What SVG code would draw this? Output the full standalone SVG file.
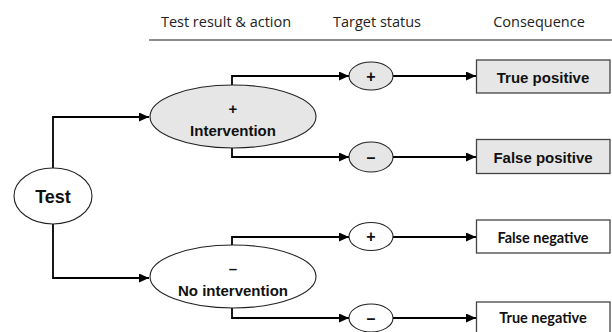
<svg xmlns="http://www.w3.org/2000/svg" width="612" height="332" viewBox="0 0 612 332">
<style>
.hdr{font-family:"Open Sans",Lato,sans-serif;font-size:14.5px;fill:#222;text-anchor:middle}
.b{font-family:"Liberation Sans",Arial,sans-serif;font-weight:bold;fill:#111;text-anchor:middle}
.c{font-family:Lato,"Open Sans",sans-serif;font-weight:bold;font-size:14.5px;fill:#111;text-anchor:middle}
.ell{stroke:#222;stroke-width:1.1}
.g{fill:#e6e6e6}
.w{fill:#fff}
.box{stroke:#444;stroke-width:1.3}
.con{fill:none;stroke:#000;stroke-width:1.8}
</style>
<defs>
<marker id="ah" markerUnits="userSpaceOnUse" markerWidth="10" markerHeight="9" refX="10" refY="4.5" orient="auto">
<path d="M0,0 L10,4.5 L0,9 z" fill="#000"/>
</marker>
</defs>
<rect width="612" height="332" fill="#fff"/>
<g id="header">
<text class="hdr" x="226" y="27">Test result &amp; action</text>
<text class="hdr" x="377" y="27">Target status</text>
<text class="hdr" x="539" y="27">Consequence</text>
<line x1="149" y1="40" x2="612" y2="40" stroke="#666" stroke-width="1.5"/>
</g>
<g id="connectors">
<path class="con" d="M53,168 V117 H149" marker-end="url(#ah)"/>
<path class="con" d="M53,224 V278 H149" marker-end="url(#ah)"/>
<path class="con" d="M232,85 V76 H349" marker-end="url(#ah)"/>
<path class="con" d="M232,148 V157 H349" marker-end="url(#ah)"/>
<path class="con" d="M232,245 V237 H349" marker-end="url(#ah)"/>
<path class="con" d="M232,308 V318 H349" marker-end="url(#ah)"/>
<path class="con" d="M393,76 H476" marker-end="url(#ah)"/>
<path class="con" d="M393,157 H476" marker-end="url(#ah)"/>
<path class="con" d="M393,237 H476" marker-end="url(#ah)"/>
<path class="con" d="M393,318 H476" marker-end="url(#ah)"/>
</g>
<g id="test">
<ellipse class="ell w" cx="53" cy="196" rx="39" ry="28"/>
<text class="b" x="53" y="203" font-size="18">Test</text>
</g>
<g id="intervention">
<ellipse class="ell g" cx="233" cy="116.5" rx="83" ry="31.5"/>
<text class="b" x="233" y="114" font-size="15">+</text>
<text class="b" x="233" y="136" font-size="15">Intervention</text>
</g>
<g id="no-intervention">
<ellipse class="ell w" cx="233" cy="276.5" rx="83" ry="31.5"/>
<text class="b" x="233" y="274" font-size="15">–</text>
<text class="b" x="233" y="296" font-size="15">No intervention</text>
</g>
<g id="pos1">
<ellipse class="ell g" cx="371" cy="76" rx="22" ry="14"/>
<text class="b" x="371" y="81.5" font-size="16">+</text>
</g>
<g id="neg1">
<ellipse class="ell g" cx="371" cy="157" rx="22" ry="15"/>
<text class="b" x="371" y="162.5" font-size="16">–</text>
</g>
<g id="pos2">
<ellipse class="ell w" cx="371" cy="236.5" rx="22" ry="14"/>
<text class="b" x="371" y="242" font-size="16">+</text>
</g>
<g id="neg2">
<ellipse class="ell w" cx="371" cy="318" rx="22" ry="14"/>
<text class="b" x="371" y="323.5" font-size="16">–</text>
</g>
<g id="true-positive">
<rect class="box g" x="476.5" y="60" width="133.5" height="33"/>
<text class="b" x="543" y="83" font-size="15">True positive</text>
</g>
<g id="false-positive">
<rect class="box g" x="476.5" y="139.5" width="133.5" height="34"/>
<text class="b" x="543" y="163" font-size="15">False positive</text>
</g>
<g id="false-negative">
<rect class="box w" x="476.5" y="220" width="133.5" height="33"/>
<text class="c" x="543" y="243">False negative</text>
</g>
<g id="true-negative">
<rect class="box w" x="476.5" y="302" width="133.5" height="33"/>
<text class="c" x="543" y="323">True negative</text>
</g>
</svg>
